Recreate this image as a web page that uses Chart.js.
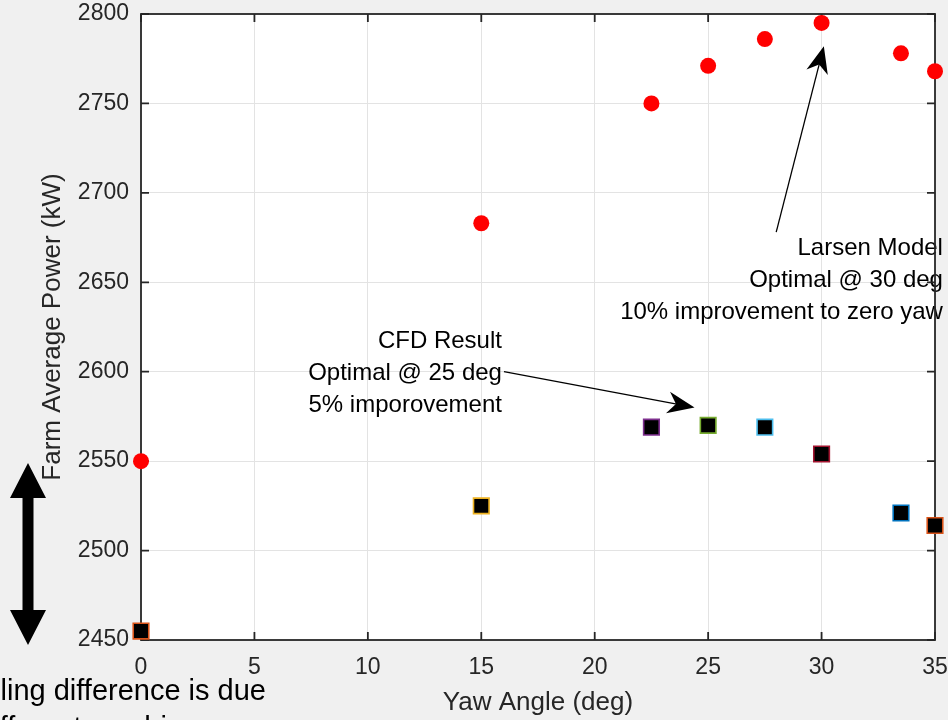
<!DOCTYPE html>
<html>
<head>
<meta charset="utf-8">
<title>Farm Average Power vs Yaw Angle</title>
<script src="https://cdn.jsdelivr.net/npm/chart.js@4.4.1/dist/chart.umd.min.js"></script>
<style>
  html, body { margin: 0; padding: 0; background: #f0f0f0; }
  #wrap { width: 948px; height: 720px; }
</style>
</head>
<body>
<div id="wrap"><canvas id="powerChart" width="948" height="720"></canvas></div>
<script>
// Larsen wake model (red dots)
const yawLarsen = [0, 15, 22.5, 25, 27.5, 30, 33.5, 35];
const powerLarsen = [2550, 2683, 2750, 2771, 2786, 2795, 2778, 2768];

// CFD runs (black squares, coloured edges)
const yawCfd = [0, 15, 22.5, 25, 27.5, 30, 33.5, 35];
const powerCfd = [2455, 2525, 2569, 2570, 2569, 2554, 2521, 2514];
const cfdEdgeColors = ['#D95319', '#EDB120', '#7E2F8E', '#77AC30', '#4DBEEE', '#A2142F', '#0072BD', '#D95319'];

const xTicks = [0, 5, 10, 15, 20, 25, 30, 35];
const yTicks = [2450, 2500, 2550, 2600, 2650, 2700, 2750, 2800];

const axisColor = '#262626';
const fontFamily = '"Liberation Sans", Arial, Helvetica, sans-serif';

// text boxes, anchored in data units (right edge, first line centre)
const notes = [
    { x: 35.35, y: 2669, lines: ['Larsen Model', 'Optimal @ 30 deg', '10% improvement to zero yaw'] },
    { x: 15.91, y: 2617, lines: ['CFD Result', 'Optimal @ 25 deg', '5% imporovement'] }
];
const arrows = [
    { from: [28.0, 2678], to: [30.1, 2782] },
    { from: [16.0, 2600], to: [24.4, 2580] }
];

function drawArrowHead(ctx, x0, y0, x1, y1, len, wid) {
    const ang = Math.atan2(y1 - y0, x1 - x0);
    ctx.save();
    ctx.translate(x1, y1);
    ctx.rotate(ang);
    ctx.beginPath();
    ctx.moveTo(0, 0);
    ctx.lineTo(-len, wid / 2);
    ctx.lineTo(-len * 0.7, 0);
    ctx.lineTo(-len, -wid / 2);
    ctx.closePath();
    ctx.fill();
    ctx.restore();
}

const axesFrame = {
    id: 'axesFrame',
    beforeDraw(chart) {
        const { ctx, chartArea: a } = chart;
        ctx.save();
        ctx.fillStyle = '#f0f0f0';
        ctx.fillRect(0, 0, chart.width, chart.height);
        ctx.fillStyle = '#ffffff';
        ctx.fillRect(a.left, a.top, a.right - a.left, a.bottom - a.top);
        ctx.restore();
    },
    beforeDatasetsDraw(chart) {
        const { ctx, chartArea: a, scales } = chart;
        ctx.save();

        // annotation text
        ctx.fillStyle = '#000000';
        ctx.font = '24px ' + fontFamily;
        ctx.textAlign = 'right';
        ctx.textBaseline = 'middle';
        notes.forEach(n => {
            const px = scales.x.getPixelForValue(n.x);
            const py = scales.y.getPixelForValue(n.y);
            n.lines.forEach((t, i) => ctx.fillText(t, px, py + i * 32));
        });

        // axes box
        ctx.strokeStyle = axisColor;
        ctx.lineWidth = 1.8;
        ctx.strokeRect(a.left, a.top, a.right - a.left, a.bottom - a.top);

        // inward tick marks on all four sides
        const tl = 8;
        ctx.beginPath();
        xTicks.forEach(v => {
            const px = scales.x.getPixelForValue(v);
            ctx.moveTo(px, a.bottom); ctx.lineTo(px, a.bottom - tl);
            ctx.moveTo(px, a.top); ctx.lineTo(px, a.top + tl);
        });
        yTicks.forEach(v => {
            const py = scales.y.getPixelForValue(v);
            ctx.moveTo(a.left, py); ctx.lineTo(a.left + tl, py);
            ctx.moveTo(a.right, py); ctx.lineTo(a.right - tl, py);
        });
        ctx.stroke();
        ctx.restore();
    },
    afterDraw(chart) {
        const { ctx, scales } = chart;
        ctx.save();
        ctx.strokeStyle = '#000000';
        ctx.fillStyle = '#000000';
        ctx.lineWidth = 1.3;

        // annotation arrows
        arrows.forEach(ar => {
            const x0 = scales.x.getPixelForValue(ar.from[0]);
            const y0 = scales.y.getPixelForValue(ar.from[1]);
            const x1 = scales.x.getPixelForValue(ar.to[0]);
            const y1 = scales.y.getPixelForValue(ar.to[1]);
            const ang = Math.atan2(y1 - y0, x1 - x0);
            ctx.beginPath();
            ctx.moveTo(x0, y0);
            ctx.lineTo(x1 - Math.cos(ang) * 18, y1 - Math.sin(ang) * 18);
            ctx.stroke();
            drawArrowHead(ctx, x0, y0, x1, y1, 27, 22);
        });

        // thick double arrow on the left margin
        const ax = 28, top = 463, bot = 645, hw = 18, hl = 35, sw = 5.5;
        ctx.beginPath();
        ctx.moveTo(ax, top);
        ctx.lineTo(ax + hw, top + hl);
        ctx.lineTo(ax + sw, top + hl);
        ctx.lineTo(ax + sw, bot - hl);
        ctx.lineTo(ax + hw, bot - hl);
        ctx.lineTo(ax, bot);
        ctx.lineTo(ax - hw, bot - hl);
        ctx.lineTo(ax - sw, bot - hl);
        ctx.lineTo(ax - sw, top + hl);
        ctx.lineTo(ax - hw, top + hl);
        ctx.closePath();
        ctx.fill();

        // side note, partly off the canvas
        ctx.font = '29px ' + fontFamily;
        ctx.textBaseline = 'alphabetic';
        ctx.textAlign = 'right';
        ctx.fillText('Modelling difference is due', 266, 700);
        ctx.textAlign = 'left';
        ctx.fillText('to different meshing', -55, 737);
        ctx.restore();
    }
};

const tickFont = { family: fontFamily, size: 23 };
const titleFont = { family: fontFamily, size: 26 };

new Chart(document.getElementById('powerChart'), {
    type: 'scatter',
    data: {
        datasets: [
            {
                label: 'Larsen Model',
                data: yawLarsen.map((x, i) => ({ x, y: powerLarsen[i] })),
                pointStyle: 'circle',
                pointRadius: 8,
                pointBackgroundColor: '#ff0000',
                pointBorderColor: '#ff0000',
                pointBorderWidth: 0,
                clip: false
            },
            {
                label: 'CFD Result',
                data: yawCfd.map((x, i) => ({ x, y: powerCfd[i] })),
                pointStyle: 'rect',
                pointRadius: 11,
                pointBackgroundColor: '#000000',
                pointBorderColor: cfdEdgeColors,
                pointBorderWidth: 1.6,
                clip: false
            }
        ]
    },
    options: {
        responsive: false,
        animation: false,
        events: [],
        layout: { padding: 0 },
        plugins: {
            legend: { display: false },
            tooltip: { enabled: false }
        },
        scales: {
            x: {
                type: 'linear',
                min: xTicks[0],
                max: xTicks[xTicks.length - 1],
                afterBuildTicks: s => { s.ticks = xTicks.map(v => ({ value: v })); },
                ticks: { color: axisColor, font: tickFont, padding: 14, maxRotation: 0, callback: v => String(v) },
                grid: { color: '#e3e3e3', lineWidth: 1, drawTicks: false },
                border: { display: false },
                title: { display: true, text: 'Yaw Angle (deg)', color: axisColor, font: titleFont, padding: { top: 0, bottom: 2 } },
                afterFit: s => { s.height = 80; s.paddingLeft = 0; s.paddingRight = 13; }
            },
            y: {
                type: 'linear',
                min: yTicks[0],
                max: yTicks[yTicks.length - 1],
                afterBuildTicks: s => { s.ticks = yTicks.map(v => ({ value: v })); },
                ticks: { color: axisColor, font: tickFont, padding: 12, callback: v => String(v) },
                grid: { color: '#e3e3e3', lineWidth: 1, drawTicks: false },
                border: { display: false },
                title: { display: true, text: 'Farm Average Power (kW)', color: axisColor, font: titleFont, padding: { top: 37, bottom: 0 } },
                afterFit: s => { s.width = 141; s.paddingTop = 14; s.paddingBottom = 0; }
            }
        }
    },
    plugins: [axesFrame]
});
</script>
</body>
</html>
